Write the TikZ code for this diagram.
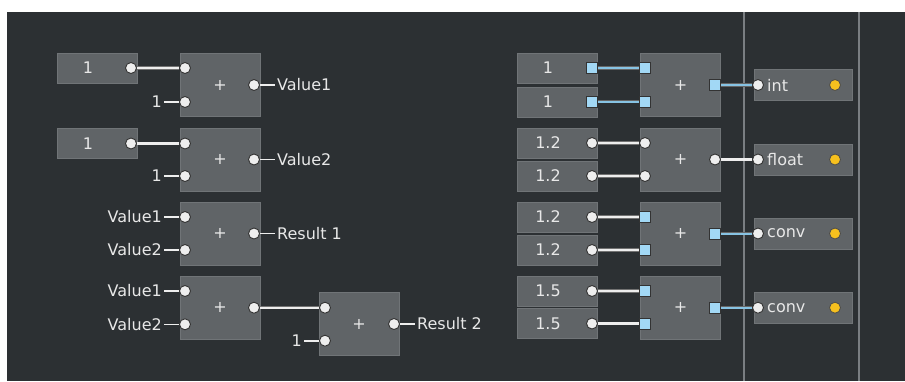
\documentclass[tikz,border=0pt]{standalone}
\usepackage{fontspec}
\setmainfont{DejaVu Sans}
\usepackage{tikz}
\usetikzlibrary{positioning}
\usepackage{xcolor}
\definecolor{panelbg}{RGB}{44,48,51}
\definecolor{boxgray}{RGB}{96,100,103}
\definecolor{boxedge}{RGB}{112,116,119}
\definecolor{portwhite}{RGB}{238,238,238}
\definecolor{portblue}{RGB}{162,216,245}
\definecolor{wireblue}{RGB}{135,195,228}
\definecolor{ledyellow}{RGB}{246,192,30}
\definecolor{txtgray}{RGB}{232,232,232}
\definecolor{railgray}{RGB}{122,126,130}

\begin{document}
\begin{tikzpicture}[x=1pt, y=-1pt,
  every node/.style={font=\fontsize{16}{18}\selectfont, text=txtgray},
  cbox/.style={draw=boxedge, fill=boxgray, minimum width=80pt, minimum height=30pt, inner sep=0pt},
  addbox/.style={draw=boxedge, fill=boxgray, minimum width=80pt, minimum height=63pt, inner sep=0pt},
  showbox/.style={draw=boxedge, fill=boxgray, minimum width=98pt, minimum height=31pt, inner sep=0pt},
  port/.style={circle, draw=black!80, fill=portwhite, line width=0.9pt, minimum size=11pt, inner sep=0pt},
  sqport/.style={rectangle, draw=black!80, fill=portblue, line width=0.9pt, minimum size=11pt, inner sep=0pt},
  led/.style={circle, draw=black!70, fill=ledyellow, line width=0.8pt, minimum size=11pt, inner sep=0pt},
  wire/.style={draw=black!55, double=portwhite, double distance=2.2pt, line width=0.5pt},
  bwire/.style={draw=black!60, double=wireblue, double distance=2pt, line width=0.6pt},
  tick/.style={portwhite, line width=1.6pt},
  lbl/.style={inner sep=2pt}]

\useasboundingbox (0,0) rectangle (905,381);
\fill[white] (0,0) rectangle (905,381);
\fill[panelbg] (7,12) rectangle (905,381);
\draw[railgray, line width=2.2pt] (744,12) -- (744,381);
\draw[railgray, line width=2.2pt] (859,12) -- (859,381);

% Somme a sinistra
\node[cbox] (k1) at (97,68) {};
\node (k1v) at (88,68) {1};
\node[cbox] (k2) at (97,143.5) {};
\node (k2v) at (88,143.5) {1};
\node[addbox] (a1) at (220,85) {+};
\node[addbox] (a2) at (220,159.5) {+};
\node[addbox] (a3) at (220,233.5) {+};
\node[addbox] (a4) at (220,307.7) {+};
\node[addbox] (a5) at (359,324) {+};

\node[port] (k1o) at (131,68) {};
\node[port] (k2o) at (131,143.5) {};
\node[port] (a1i1) at (185,68) {};
\node[port] (a1i2) at (185,102) {};
\node[port] (a1o) at (254,85) {};
\node[port] (a2i1) at (185,143.5) {};
\node[port] (a2i2) at (185,176) {};
\node[port] (a2o) at (254,159.5) {};
\node[port] (a3i1) at (185,217) {};
\node[port] (a3i2) at (185,250) {};
\node[port] (a3o) at (254,233.5) {};
\node[port] (a4i1) at (185,291) {};
\node[port] (a4i2) at (185,324.3) {};
\node[port] (a4o) at (254,307.7) {};
\node[port] (a5i1) at (325,307.7) {};
\node[port] (a5i2) at (325,340.7) {};
\node[port] (a5o) at (394,324) {};

\node[lbl, anchor=east] (n1) at (164,102) {1};
\node[lbl, anchor=east] (n2) at (164,176) {1};
\node[lbl, anchor=east] (n3) at (164,217) {Value1};
\node[lbl, anchor=east] (n4) at (164,250) {Value2};
\node[lbl, anchor=east] (n5) at (164,291) {Value1};
\node[lbl, anchor=east] (n6) at (164,324.3) {Value2};
\node[lbl, anchor=east] (n7) at (304,340.7) {1};
\node[lbl, anchor=west] (v1) at (275,85) {Value1};
\node[lbl, anchor=west] (v2) at (275,159.5) {Value2};
\node[lbl, anchor=west] (res1) at (275,233.5) {Result 1};
\node[lbl, anchor=west] (res2) at (415,324) {Result 2};

\draw[wire] (k1o) -- (a1i1);
\draw[wire] (k2o) -- (a2i1);
\draw[wire] (a4o) -- (a5i1);
\draw[tick] (n1) -- (a1i2);
\draw[tick] (n2) -- (a2i2);
\draw[tick] (n3) -- (a3i1);
\draw[tick] (n4) -- (a3i2);
\draw[tick] (n5) -- (a4i1);
\draw[tick] (n6) -- (a4i2);
\draw[tick] (n7) -- (a5i2);
\draw[tick] (a1o) -- (v1);
\draw[tick] (a2o) -- (v2);
\draw[tick] (a3o) -- (res1);
\draw[tick] (a5o) -- (res2);

% Tipi a destra
\node[cbox] (k5) at (557,68) {};
\node (k5v) at (548,68) {1};
\node[cbox] (k6) at (557,101.7) {};
\node (k6v) at (548,101.7) {1};
\node[cbox] (k7) at (557,143) {};
\node (k7v) at (548,143) {1.2};
\node[cbox] (k8) at (557,176) {};
\node (k8v) at (548,176) {1.2};
\node[cbox] (k9) at (557,217) {};
\node (k9v) at (548,217) {1.2};
\node[cbox] (k10) at (557,250) {};
\node (k10v) at (548,250) {1.2};
\node[cbox] (k11) at (557,291) {};
\node (k11v) at (548,291) {1.5};
\node[cbox] (k12) at (557,323.5) {};
\node (k12v) at (548,323.5) {1.5};

\node[addbox] (a6) at (680.5,85) {+};
\node[addbox] (a7) at (680.5,159.5) {+};
\node[addbox] (a8) at (680.5,233.5) {+};
\node[addbox] (a9) at (680.5,307.7) {+};

\node[showbox] (d1) at (803,85) {};
\node[showbox] (d2) at (803,159.5) {};
\node[showbox] (d3) at (803,233.5) {};
\node[showbox] (d4) at (803,307.7) {};
\node[lbl, anchor=west] (d1t) at (765,85) {int};
\node[lbl, anchor=west] (d2t) at (765,159.5) {float};
\node[lbl, anchor=west] (d3t) at (765,233.5) {conv};
\node[lbl, anchor=west] (d4t) at (765,307.7) {conv};
\node[led] (d1l) at (835,85) {};
\node[led] (d2l) at (835,159.5) {};
\node[led] (d3l) at (835,233.5) {};
\node[led] (d4l) at (835,307.7) {};

\node[sqport] (k5o) at (592,68) {};
\node[sqport] (k6o) at (592,101.7) {};
\node[sqport] (a6i1) at (645,68) {};
\node[sqport] (a6i2) at (645,101.7) {};
\node[sqport] (a6o) at (715,85) {};
\node[port] (d1i) at (758,85) {};

\node[port] (k7o) at (592,143) {};
\node[port] (k8o) at (592,176) {};
\node[port] (a7i1) at (645,143) {};
\node[port] (a7i2) at (645,176) {};
\node[port] (a7o) at (715,159.5) {};
\node[port] (d2i) at (758,159.5) {};

\node[port] (k9o) at (592,217) {};
\node[port] (k10o) at (592,250) {};
\node[sqport] (a8i1) at (645,217) {};
\node[sqport] (a8i2) at (645,250) {};
\node[sqport] (a8o) at (715,233.5) {};
\node[port] (d3i) at (758,233.5) {};

\node[port] (k11o) at (592,291) {};
\node[port] (k12o) at (592,323.5) {};
\node[sqport] (a9i1) at (645,291) {};
\node[sqport] (a9i2) at (645,323.5) {};
\node[sqport] (a9o) at (715,307.7) {};
\node[port] (d4i) at (758,307.7) {};

\draw[bwire] (k5o) -- (a6i1);
\draw[bwire] (k6o) -- (a6i2);
\draw[bwire] (a6o) -- (d1i);
\draw[wire] (k7o) -- (a7i1);
\draw[wire] (k8o) -- (a7i2);
\draw[wire] (a7o) -- (d2i);
\draw[wire] (k9o) -- (a8i1);
\draw[wire] (k10o) -- (a8i2);
\draw[bwire] (a8o) -- (d3i);
\draw[wire] (k11o) -- (a9i1);
\draw[wire] (k12o) -- (a9i2);
\draw[bwire] (a9o) -- (d4i);

\end{tikzpicture}
\end{document}
